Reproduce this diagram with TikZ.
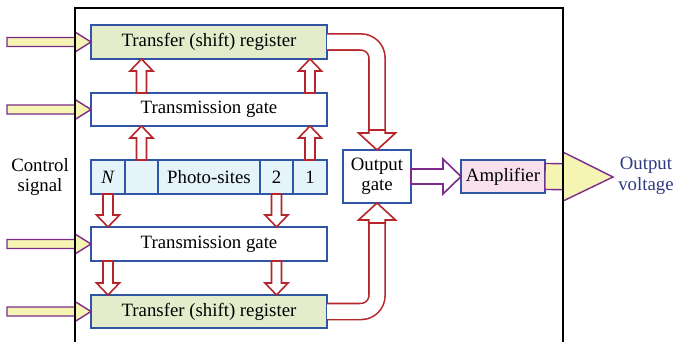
\documentclass[tikz,border=0pt]{standalone}
\usepackage{fontspec}
\setmainfont{Liberation Serif}
\usepackage{tikz}
\usetikzlibrary{positioning,calc}
\definecolor{azul}{HTML}{2F55A4}
\definecolor{verde}{HTML}{E4EDCB}
\definecolor{celeste}{HTML}{E5F3FB}
\definecolor{rosa}{HTML}{F8E1EC}
\definecolor{rojo}{HTML}{B5252B}
\definecolor{morado}{HTML}{7D2B8B}
\definecolor{amarillo}{HTML}{F5F4B3}
\definecolor{marino}{HTML}{2E3B84}
% flecha de bloque: estilo, desde, hasta, medio cuerpo, media cabeza, largo cabeza
\newcommand{\flechabloque}[6]{%
  \draw[#1] let \p1=(#2), \p2=(#3),
    \n1={veclen(\x2-\x1,\y2-\y1)}, \n2={atan2(\y2-\y1,\x2-\x1)} in
    [shift={(\x1,\y1)}, rotate=\n2]
    (0pt,#4pt) -- ({\n1-#6pt},#4pt) -- ({\n1-#6pt},#5pt) -- (\n1,0pt)
    -- ({\n1-#6pt},-#5pt) -- ({\n1-#6pt},-#4pt) -- (0pt,-#4pt) -- cycle;}

\begin{document}
\begin{tikzpicture}[x=1pt,y=-1pt,
  font=\fontsize{18.8}{20.5}\selectfont,
  caja/.style={draw=azul,line width=2.2pt,fill=white,outer sep=0pt,inner sep=0pt,
               minimum width=236pt,minimum height=33pt},
  registro/.style={caja,fill=verde},
  celda/.style={caja,fill=celeste,minimum width=#1,minimum height=34pt},
  flecharoja/.style={draw=rojo,line width=1.6pt,fill=white},
  tubo/.style={draw=rojo,line width=1.6pt,double=white,double distance=14.5pt,
               rounded corners=16pt},
  control/.style={draw=morado,line width=1.4pt,fill=amarillo},
  hueca/.style={draw=morado,line width=1.6pt,fill=white}
]
\useasboundingbox (0,0) rectangle (674,342);

% fila de fotositos
\node[celda=34pt] (celdaN) at (108,177) {\textit{N}};
\node[celda=33pt,right=0pt of celdaN] (celdaV) {};
\node[celda=102pt,right=0pt of celdaV] (fotos) {Photo-sites};
\node[celda=33pt,right=0pt of fotos] (celda2) {2};
\node[celda=34pt,right=0pt of celda2] (celda1) {1};

% compuertas y registros
\node[caja,above=34pt of fotos] (tgA) {Transmission gate};
\node[registro,above=34pt of tgA,minimum height=34pt] (regA) {Transfer (shift) register};
\node[caja,below=33pt of fotos,minimum height=34pt] (tgB) {Transmission gate};
\node[registro,below=34pt of tgB] (regB) {Transfer (shift) register};

\node[caja,minimum width=68pt,minimum height=53pt,align=center] (salida)
  at (377,176.5) {Output\\[-1pt]gate};
\node[caja,fill=rosa,minimum width=84pt,minimum height=33pt] (amp)
  at (503,176.5) {Amplifier};

\node[align=center] (ctrl) at (40,177) {Control\\signal};
\node[align=center,text=marino] (vout) at (646,176) {Output\\voltage};

\coordinate (entrada) at (7,0);
\coordinate (punta) at (613,177);

% transferencia de carga
\foreach \c in {celdaV,celda1} {
  \flechabloque{flecharoja}{\c.north}{\c |- tgA.south}{5}{11.5}{12}
  \flechabloque{flecharoja}{\c |- tgA.north}{\c |- regA.south}{5}{11.5}{12}
}
\foreach \c in {celdaN,celda2} {
  \flechabloque{flecharoja}{\c.south}{\c |- tgB.north}{5}{11.5}{12}
  \flechabloque{flecharoja}{\c |- tgB.south}{\c |- regB.north}{5}{11.5}{12}
}

% registros hacia la compuerta de salida
\draw[tubo] (regA.east) -| ($(salida.north)+(0,-16)$);
\flechabloque{flecharoja}{$(salida.north)+(0,-20)$}{salida.north}{8.25}{18.5}{17}
\draw[tubo] (regB.east) -| ($(salida.south)+(0,16)$);
\flechabloque{flecharoja}{$(salida.south)+(0,20)$}{salida.south}{8.25}{18.5}{17}

% señales de control
\foreach \b in {regA,tgA,tgB,regB} {
  \flechabloque{control}{entrada |- \b.west}{\b.west}{4.5}{10}{16}
}

\flechabloque{hueca}{salida.east}{amp.west}{7.5}{17.5}{18}
\flechabloque{control}{amp.east}{punta}{13}{24.5}{50}

% marco del chip
\draw[line width=2pt] (75,345) -- (75,8) -- (563,8) -- (563,345);
\end{tikzpicture}
\end{document}
